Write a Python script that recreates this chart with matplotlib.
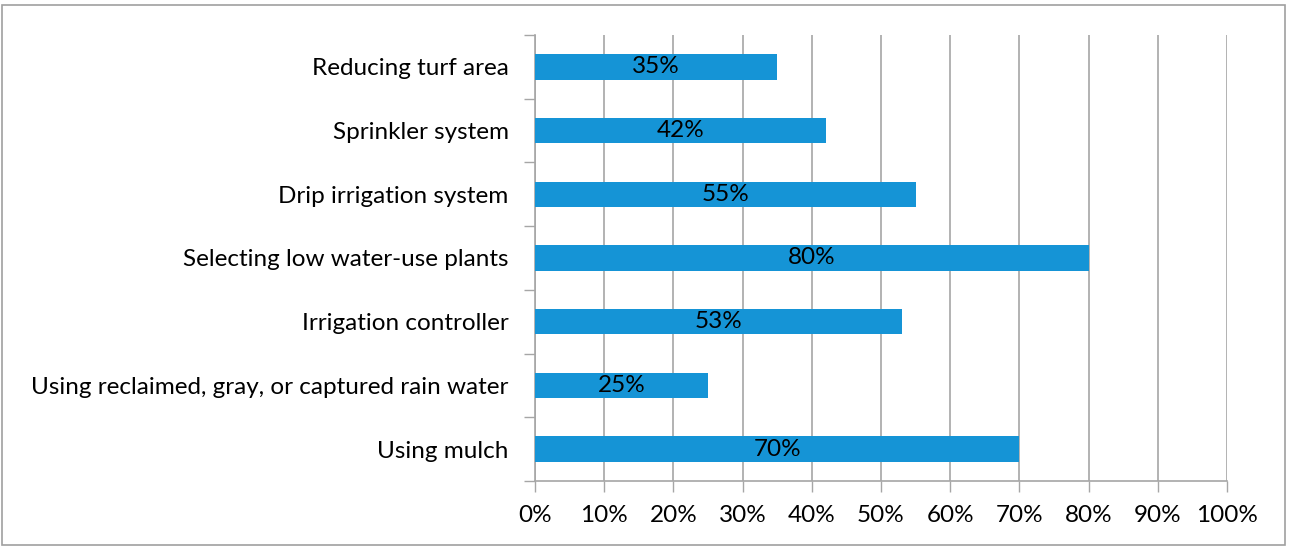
import matplotlib
matplotlib.use("Agg")
import matplotlib.pyplot as plt
from matplotlib.patches import Rectangle

categories = ["Using mulch", "Using reclaimed, gray, or captured rain water",
              "Irrigation controller", "Selecting low water-use plants",
              "Drip irrigation system", "Sprinkler system", "Reducing turf area"]
values = [70, 25, 53, 80, 55, 42, 35]
xticks = [0, 10, 20, 30, 40, 50, 60, 70, 80, 90, 100]
xticklabels = [f"{t}%" for t in xticks]

plt.rcParams['font.family'] = ['Lato', 'DejaVu Sans']
W, H = 1289, 546
fig = plt.figure(figsize=(W/100, H/100), dpi=100)
ax = fig.add_axes([535/W, 1-481/H, (1227-535)/W, (481-35)/H])

grid_c = '#A6A6A6'
bar_c = '#1594D6'
fs = 17.5
ypos = list(range(len(categories)))
ax.barh(ypos, values, height=0.4, color=bar_c, zorder=3)
for y, v in zip(ypos, values):
    ax.text(v/2, y, f"{v}%", ha='center', va='center', fontsize=fs, color='black', zorder=4)

ax.set_xlim(0, 100)
ax.set_ylim(-0.5, len(categories)-0.5)
ax.set_xticks(xticks)
ax.set_xticklabels(xticklabels, fontsize=fs)
ax.set_yticks(ypos)
ax.set_yticklabels(categories, fontsize=fs)
ax.set_yticks([i-0.5 for i in range(len(categories)+1)], minor=True)
ax.tick_params(axis='y', which='major', length=0, pad=19)
ax.tick_params(axis='y', which='minor', length=8, color=grid_c, width=1)
ax.tick_params(axis='x', length=8, color=grid_c, width=1, pad=9)
ax.xaxis.grid(True, color=grid_c, linewidth=1.2, zorder=0)
for s in ['top', 'right']:
    ax.spines[s].set_visible(False)
for s in ['left', 'bottom']:
    ax.spines[s].set_color(grid_c)
    ax.spines[s].set_linewidth(1.2)

fig.patches.append(Rectangle((2/W, 1/H), (1285-2)/W, (541-1)/H, transform=fig.transFigure,
                             fill=False, edgecolor='#A0A0A0', linewidth=1.2))
fig.savefig("out.png", dpi=100)
